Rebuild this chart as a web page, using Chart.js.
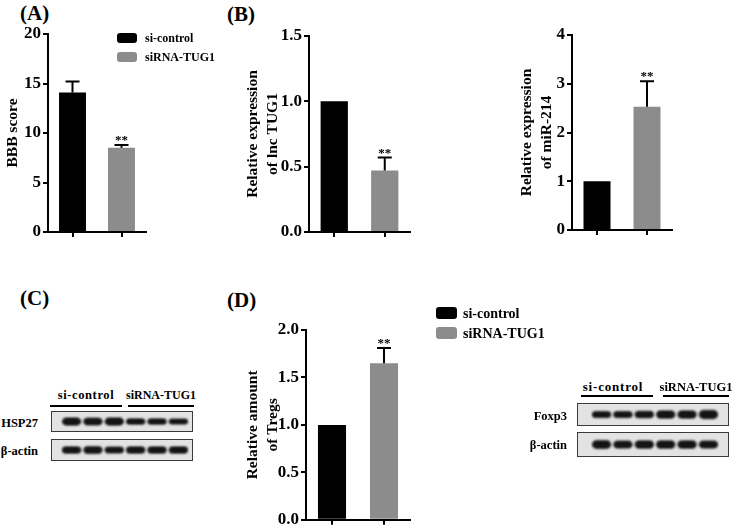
<!DOCTYPE html>
<html>
<head>
<meta charset="utf-8">
<script src="https://cdn.jsdelivr.net/npm/chart.js@4.4.1/dist/chart.umd.min.js"></script>
<style>
  html, body { margin: 0; padding: 0; background: #fff; }
  #root { position: relative; width: 756px; height: 532px; overflow: hidden; font-family: 'Liberation Serif', 'Times New Roman', serif; font-weight: bold; color: #000; }
  canvas { position: absolute; }
  .t { position: absolute; white-space: nowrap; }
  .blot { border: 1px solid #3a3a3a; background: #e3e3e3; }
  .rule { position: absolute; height: 2px; background: #000; }
</style>
</head>
<body>
<div id="root">
  <div class="t" style="left:20px;top:3px;font-size:21px;line-height:21px;">(A)</div>
  <div class="t" style="left:227px;top:4px;font-size:21px;line-height:21px;">(B)</div>
  <div class="t" style="left:20px;top:288px;font-size:21px;line-height:21px;">(C)</div>
  <div class="t" style="left:227px;top:290px;font-size:21px;line-height:21px;">(D)</div>

  <canvas id="cA" width="230" height="250" style="left:0px;top:0px;"></canvas>
  <canvas id="cB" width="260" height="250" style="left:230px;top:0px;"></canvas>
  <canvas id="cM" width="266" height="250" style="left:490px;top:0px;"></canvas>
  <canvas id="cD" width="330" height="242" style="left:230px;top:290px;"></canvas>

  <!-- Western blot (C) -->
  <div class="t" style="left:36px;top:388px;width:100px;text-align:center;font-size:12.5px;line-height:14px;letter-spacing:0.6px;">si-control</div>
  <div class="t" style="left:111px;top:388px;width:100px;text-align:center;font-size:12px;line-height:14px;">siRNA-TUG1</div>
  <div class="rule" style="left:50px;top:405px;width:72px;"></div>
  <div class="rule" style="left:128px;top:405px;width:66px;"></div>
  <div class="t" style="left:-62px;top:416px;width:100px;text-align:right;font-size:12.5px;line-height:14px;">HSP27</div>
  <div class="t" style="left:-62px;top:444px;width:100px;text-align:right;font-size:12.5px;line-height:14px;">β-actin</div>
  <canvas id="bC1" class="blot" width="142" height="21" style="left:51px;top:411px;"></canvas>
  <canvas id="bC2" class="blot" width="142" height="22" style="left:51px;top:439px;"></canvas>

  <!-- Western blot (D) -->
  <div class="t" style="left:563px;top:380px;width:100px;text-align:center;font-size:13px;line-height:14px;letter-spacing:0.8px;">si-control</div>
  <div class="t" style="left:646px;top:380px;width:100px;text-align:center;font-size:12.5px;line-height:14px;">siRNA-TUG1</div>
  <div class="rule" style="left:581px;top:395px;width:72px;"></div>
  <div class="rule" style="left:663px;top:395px;width:66px;"></div>
  <div class="t" style="left:467px;top:409px;width:100px;text-align:right;font-size:12.5px;line-height:14px;">Foxp3</div>
  <div class="t" style="left:467px;top:438px;width:100px;text-align:right;font-size:12.5px;line-height:14px;">β-actin</div>
  <canvas id="bD1" class="blot" width="152" height="23" style="left:577px;top:403px;"></canvas>
  <canvas id="bD2" class="blot" width="152" height="25" style="left:577px;top:432px;"></canvas>
</div>

<script>
// ---------------- DATA ----------------
const groups = ['si-control', 'siRNA-TUG1'];
const groupColors = ['#000000', '#8c8c8c'];
const sigMarks = ['', '**'];

// (A) BBB score
const bbbMeans = [14.1, 8.5];
const bbbErrors = [1.1, 0.3];
const bbbTicks = [0, 5, 10, 15, 20];

// (B) lnc TUG1 expression
const tug1Means = [1.0, 0.47];
const tug1Errors = [0, 0.10];
const tug1Ticks = [0, 0.5, 1.0, 1.5];

// (B) miR-214 expression
const mir214Means = [1.0, 2.53];
const mir214Errors = [0, 0.52];
const mir214Ticks = [0, 1, 2, 3, 4];

// (D) Tregs
const tregMeans = [1.0, 1.65];
const tregErrors = [0, 0.16];
const tregTicks = [0, 0.5, 1.0, 1.5, 2.0];

// Western blot lanes and relative band intensities
const blotLanes = ['1', '2', '3', '4', '5', '6'];
const hsp27Bands = [1.0, 0.95, 1.0, 0.8, 0.8, 0.72];
const actinCBands = [0.85, 0.9, 0.8, 0.85, 0.85, 0.85];
const foxp3Bands = [0.8, 0.8, 0.85, 0.95, 0.95, 1.05];
const actinDBands = [0.9, 0.82, 0.85, 0.85, 0.85, 0.8];

// ---------------- HELPERS ----------------
const FONT = "'Liberation Serif', 'Times New Roman', serif";

function barChart(id, means, errors, tickVals, decimals, title, L) {
  const canvas = document.getElementById(id);
  const datasets = groups.map((g, i) => ({
    label: g,
    data: means.map((v, j) => (j === i ? v : null)),
    backgroundColor: groupColors[i],
    borderWidth: 0,
    barPercentage: L.barPct,
    categoryPercentage: 1
  }));

  const errPlugin = {
    id: 'errs',
    afterDatasetsDraw(chart) {
      const ctx = chart.ctx, y = chart.scales.y;
      ctx.save();
      ctx.strokeStyle = '#000';
      ctx.lineWidth = 2;
      groups.forEach((g, i) => {
        const el = chart.getDatasetMeta(i).data[i];
        if (!el) return;
        const top = y.getPixelForValue(means[i] + errors[i]);
        if (errors[i] > 0) {
          ctx.beginPath();
          ctx.moveTo(el.x, el.y);
          ctx.lineTo(el.x, top);
          ctx.moveTo(el.x - 7, top);
          ctx.lineTo(el.x + 7, top);
          ctx.stroke();
        }
        if (sigMarks[i]) {
          ctx.fillStyle = '#000';
          ctx.font = 'bold 13px ' + FONT;
          ctx.textAlign = 'center';
          ctx.textBaseline = 'alphabetic';
          ctx.fillText(sigMarks[i], el.x, top - 1);
        }
      });
      ctx.restore();
    }
  };

  const legendPlugin = {
    id: 'lg',
    afterDraw(chart) {
      const ctx = chart.ctx;
      ctx.save();
      chart.data.datasets.forEach((ds, i) => {
        const yc = L.legY[i];
        ctx.fillStyle = ds.backgroundColor;
        ctx.beginPath();
        if (ctx.roundRect) ctx.roundRect(L.legX, yc - L.legH / 2, L.legW, L.legH, 3);
        else ctx.rect(L.legX, yc - L.legH / 2, L.legW, L.legH);
        ctx.fill();
        ctx.fillStyle = '#000';
        ctx.font = 'bold ' + L.legFont + 'px ' + FONT;
        ctx.textAlign = 'left';
        ctx.textBaseline = 'middle';
        ctx.fillText(ds.label, L.legText, yc + 1);
      });
      ctx.restore();
    }
  };

  const yW = L.left - L.cx;
  const xH = L.cy + L.ch - L.bottom;
  const titleLH = 20;

  return new Chart(canvas, {
    type: 'bar',
    data: { labels: groups, datasets },
    plugins: [errPlugin, legendPlugin],
    options: {
      responsive: false,
      animation: false,
      devicePixelRatio: 1,
      layout: {
        autoPadding: false,
        padding: { top: L.top - L.cy, right: L.cx + L.cw - L.right, left: 0, bottom: 0 }
      },
      plugins: { legend: { display: false }, tooltip: { enabled: false } },
      scales: {
        x: {
          stacked: true,
          offset: true,
          grid: { display: true, drawOnChartArea: false, drawTicks: true, tickLength: 5, color: '#000', lineWidth: 2, offset: false },
          border: { display: true, color: '#000', width: 2 },
          ticks: { display: false },
          afterFit(s) { s.height = xH; }
        },
        y: {
          min: tickVals[0],
          max: tickVals[tickVals.length - 1],
          afterBuildTicks(s) { s.ticks = tickVals.map(v => ({ value: v })); },
          grid: { display: true, drawOnChartArea: false, drawTicks: true, tickLength: 5, color: '#000', lineWidth: 2 },
          border: { display: true, color: '#000', width: 2 },
          ticks: {
            color: '#000',
            padding: 2,
            font: { family: FONT, size: 17, weight: 'bold' },
            callback: (v) => Number(v).toFixed(decimals)
          },
          title: {
            display: true,
            text: title,
            color: '#000',
            font: { family: FONT, size: 15.5, weight: 'bold', lineHeight: titleLH / 15.5 },
            padding: { top: L.titleX - L.cx - titleLH / 2, bottom: 0 }
          },
          afterFit(s) { s.width = yW; }
        }
      }
    }
  });
}

function blotChart(id, bands, padL, padR) {
  const canvas = document.getElementById(id);
  const blurPlugin = {
    id: 'blur',
    beforeDatasetsDraw(chart) { chart.ctx.save(); chart.ctx.filter = 'blur(1.3px)'; },
    afterDatasetsDraw(chart) { chart.ctx.restore(); }
  };
  return new Chart(canvas, {
    type: 'bar',
    data: {
      labels: blotLanes,
      datasets: [{
        data: bands.map(v => [-v * 0.42, v * 0.42]),
        backgroundColor: '#141414',
        borderWidth: 0,
        borderSkipped: false,
        borderRadius: 5,
        barPercentage: 0.9,
        categoryPercentage: 1
      }]
    },
    plugins: [blurPlugin],
    options: {
      responsive: false,
      animation: false,
      devicePixelRatio: 1,
      layout: { autoPadding: false, padding: { left: padL, right: padR, top: 0, bottom: 0 } },
      plugins: { legend: { display: false }, tooltip: { enabled: false } },
      scales: {
        x: { display: false },
        y: { display: false, min: -1, max: 1 }
      }
    }
  });
}

// ---------------- CHARTS ----------------
barChart('cA', bbbMeans, bbbErrors, bbbTicks, 0, 'BBB score', {
  cx: 0, cy: 0, cw: 230, ch: 250,
  left: 48, top: 34, right: 146, bottom: 232, titleX: 13, barPct: 0.55,
  legX: 117, legW: 20, legH: 10, legY: [38, 57], legText: 145, legFont: 12
});

barChart('cB', tug1Means, tug1Errors, tug1Ticks, 1, ['Relative expression', 'of lnc TUG1'], {
  cx: 230, cy: 0, cw: 260, ch: 250,
  left: 309, top: 36, right: 410, bottom: 232, titleX: 253, barPct: 0.54,
  legX: 377, legW: 22, legH: 10, legY: [40, 58], legText: 405, legFont: 12
});

barChart('cM', mir214Means, mir214Errors, mir214Ticks, 0, ['Relative expression', 'of miR-214'], {
  cx: 490, cy: 0, cw: 266, ch: 250,
  left: 572, top: 35, right: 672, bottom: 230, titleX: 527, barPct: 0.54,
  legX: 663, legW: 20, legH: 10, legY: [40, 58], legText: 693, legFont: 12
});

barChart('cD', tregMeans, tregErrors, tregTicks, 1, ['Relative amount', 'of Tregs'], {
  cx: 230, cy: 290, cw: 330, ch: 242,
  left: 306, top: 330, right: 410, bottom: 526, titleX: 253, barPct: 0.54,
  legX: 206, legW: 21, legH: 12, legY: [23, 43], legText: 233, legFont: 14
});

blotChart('bC1', hsp27Bands, 9, 3);
blotChart('bC2', actinCBands, 9, 3);
blotChart('bD1', foxp3Bands, 13, 9);
blotChart('bD2', actinDBands, 13, 9);
</script>
</body>
</html>
